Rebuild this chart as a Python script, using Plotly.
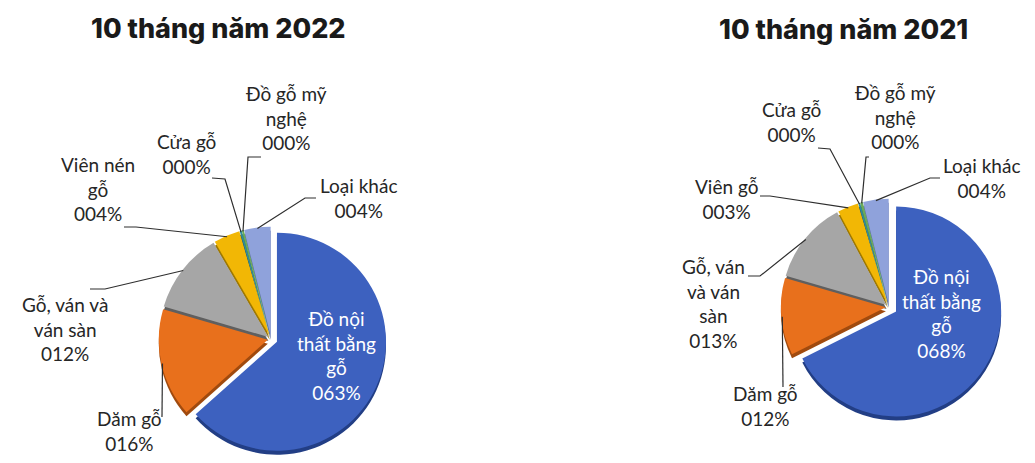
import math
import plotly.graph_objects as go

W, H = 1035, 463

# ---------------- data ----------------
cats_2022 = ["Đồ nội<br>thất bằng<br>gỗ", "Dăm gỗ", "Gỗ, ván và<br>ván sàn", "Viên nén<br>gỗ",
             "Cửa gỗ", "Đồ gỗ mỹ<br>nghệ", "Loại khác"]
vals_2022 = [63.4, 16.1, 12.1, 3.9, 0.3, 0.3, 3.9]

cats_2021 = ["Đồ nội<br>thất bằng<br>gỗ", "Dăm gỗ", "Gỗ, ván<br>và ván<br>sàn", "Viên gỗ",
             "Cửa gỗ", "Đồ gỗ mỹ<br>nghệ", "Loại khác"]
vals_2021 = [67.6, 11.9, 12.7, 3.2, 0.3, 0.4, 3.9]

titles = ["10 tháng năm 2022", "10 tháng năm 2021"]

# ---------------- style ----------------
colors = ["#3D61BF", "#E8701C", "#A6A6A6", "#F2B705", "#2F8A9A", "#6BAA5A", "#8FA2DB"]
shadow = ["#223E85", "#A04A0E", "#5F5F5F", "#9E7800", "#1F5A66", "#46733A", "#5C6DA6"]
LABEL_FONT = dict(family="Lato", size=19, color="#262626")
TEXT_DY = -7  # vertical correction for annotation text

charts = [
    dict(vals=vals_2022, cats=cats_2022, cx=263, cy=331, r=109,
         pull=[0.06, 0.03, 0.03, 0.03, 0.03, 0.03, 0.03],
         title_xy=(210, 28),
         labels=[(328, 354), (121, 430), (57, 328), (90, 188), (178, 153), (278, 117), (350, 197)],
         leaders=[None, [(154, 409)], [(82, 281), (97, 281)], [(116, 219), (128, 219)],
                  [(204, 170), (217, 171)], [(253, 149), (240, 149)], [(308, 190), (297, 190)]]),
    dict(vals=vals_2021, cats=cats_2021, cx=881, cy=299, r=105,
         pull=[0.08, 0.03, 0.03, 0.03, 0.03, 0.03, 0.03],
         title_xy=(835, 29),
         labels=[(933, 312), (757, 405), (705, 302), (718, 198), (783, 121), (887, 116), (973, 177)],
         leaders=[None, [(775, 379)], [(740, 268), (752, 268)], [(752, 188), (762, 188)],
                  [(810, 140), (822, 141)], [(861, 149), (858, 149)], [(932, 170), (922, 170)]]),
]

SHADOW_DY = 4


def px2paper(x, y):
    return x / W, 1 - y / H


fig = go.Figure()
shapes = []
annotations = []

for ch in charts:
    vals = ch["vals"]
    cx, cy, r = ch["cx"], ch["cy"], ch["r"]
    maxpull = max(ch["pull"])
    half = r * (1 + maxpull)
    for dy, cols in ((SHADOW_DY, shadow), (0, colors)):
        fig.add_trace(go.Pie(
            values=vals, labels=[c.replace("<br>", " ") for c in ch["cats"]],
            sort=False, direction="clockwise", rotation=0,
            pull=ch["pull"], marker=dict(colors=cols, line=dict(width=0)),
            textinfo="none", hoverinfo="skip" if dy else "label+percent",
            showlegend=False,
            domain=dict(x=[(cx - half) / W, (cx + half) / W],
                        y=[1 - (cy + dy + half) / H, 1 - (cy + dy - half) / H]),
        ))

    total = sum(vals)
    cum = 0.0
    for i, v in enumerate(vals):
        mid = (cum + v / 2) / total * 2 * math.pi
        cum += v
        text = f"{ch['cats'][i]}<br>{round(v):03d}%"
        lx, ly = ch["labels"][i]
        px, py = px2paper(lx, ly + TEXT_DY)
        if i == 0:
            annotations.append(dict(x=px, y=py, xref="paper", yref="paper", text=text,
                                    showarrow=False, xanchor="center", yanchor="middle",
                                    font=dict(family="Lato", size=19, color="white")))
            continue
        annotations.append(dict(x=px, y=py, xref="paper", yref="paper", text=text,
                                showarrow=False, xanchor="center", yanchor="middle",
                                font=LABEL_FONT))
        rr = r * (1 + ch["pull"][i]) - 1
        ex = cx + rr * math.sin(mid)
        ey = cy - rr * math.cos(mid)
        pts = list(ch["leaders"][i]) + [(ex, ey)]
        path = ""
        for k, (x, y) in enumerate(pts):
            qx, qy = px2paper(x, y)
            path += ("M" if k == 0 else " L") + f" {qx:.5f},{qy:.5f}"
        shapes.append(dict(type="path", path=path, xref="paper", yref="paper",
                           line=dict(color="#2E2E2E", width=1.2)))

for t, ch in zip(titles, charts):
    tx, ty = px2paper(ch["title_xy"][0], ch["title_xy"][1] - 8)
    annotations.append(dict(x=tx, y=ty, xref="paper", yref="paper", text=t, showarrow=False,
                            xanchor="center", yanchor="middle",
                            font=dict(family="Inter", size=27, color="#1A1A1A", weight=800)))

fig.update_layout(width=W, height=H, margin=dict(l=0, r=0, t=0, b=0),
                  paper_bgcolor="white", plot_bgcolor="white",
                  shapes=shapes, annotations=annotations)

fig.write_html("out.html")
